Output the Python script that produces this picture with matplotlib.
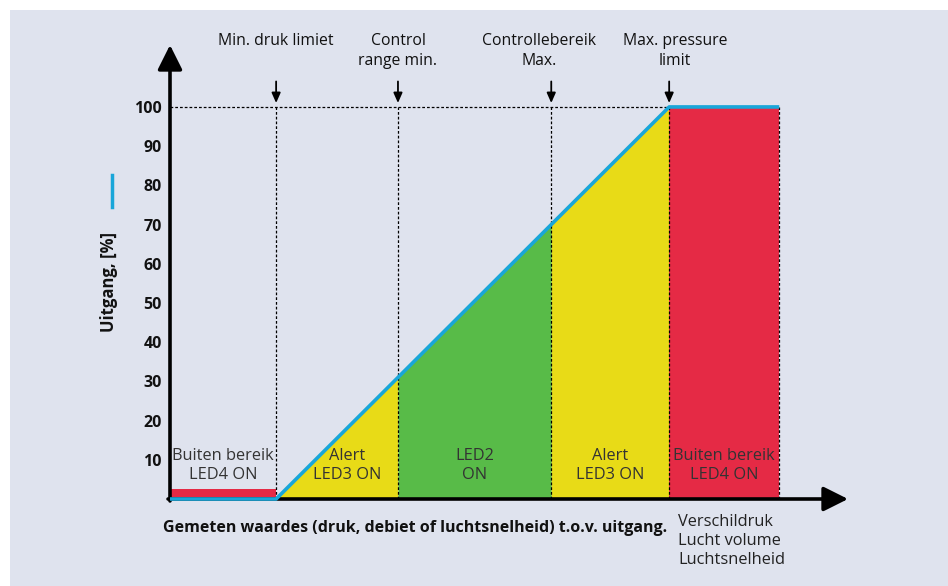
import matplotlib
matplotlib.use("Agg")
import matplotlib.pyplot as plt
from matplotlib.patches import Rectangle
from matplotlib.lines import Line2D

# Data
breaks = [0, 27, 58, 97, 127, 155]          # x positions of the limits
output = [0, 0, 31, 70, 100, 100]           # output [%] at each limit
yticks = [10, 20, 30, 40, 50, 60, 70, 80, 90, 100]
limit_labels = ["Min. druk limiet", "Control\nrange min.", "Controllebereik\nMax.", "Max. pressure\nlimit"]
zone_labels = ["Buiten bereik\nLED4 ON", "Alert\nLED3 ON", "LED2\nON", "Alert\nLED3 ON", "Buiten bereik\nLED4 ON"]
low_bar = 2.5                               # height of red bar below min limit

# Styles
bg = "#DFE3EE"
c_red = "#E52A45"
c_yel = "#E8DB17"
c_grn = "#58BB48"
c_blue = "#19A6D9"
zone_colors = [c_yel, c_grn, c_yel, c_red]
font = "Open Sans"

fig = plt.figure(figsize=(9.48, 5.86), dpi=100)
fig.patch.set_facecolor("white")
fig.patches.append(Rectangle((10/948, 0), 1, 1 - 10/586, transform=fig.transFigure,
                             facecolor=bg, edgecolor="none", zorder=-10))

ax = fig.add_axes([170/948, (586-499)/586, 678/948, 454/586])
ax.set_facecolor("none")
ax.set_xlim(0, 172.5)
ax.set_ylim(0, 115.8)
for s in ax.spines.values():
    s.set_visible(False)
ax.set_xticks([])
ax.set_yticks(yticks)
ax.set_yticklabels([str(t) for t in yticks], fontfamily=font, fontweight="bold", fontsize=11.5, color="#111")
ax.tick_params(axis="y", length=0, pad=6)

# low red bar
ax.fill_between([breaks[0], breaks[1]], 0, low_bar, color=c_red, lw=0, zorder=2)
# zones under the curve
for i, col in enumerate(zone_colors):
    ax.fill_between(breaks[i+1:i+3], 0, output[i+1:i+3], color=col, lw=0, zorder=2)

# dashed guides
dash = (0, (2.2, 1.6))
ax.plot([0, breaks[4]], [100, 100], color="black", lw=0.9, ls=dash, zorder=3)
for xb in breaks[1:]:
    ax.plot([xb, xb], [0, 100], color="black", lw=0.9, ls=dash, zorder=3)

# axes with arrows
ax.annotate("", xy=(0, 115.8), xytext=(0, -0.5), annotation_clip=False,
            arrowprops=dict(arrowstyle="-|>,head_length=0.6,head_width=0.3", lw=2.6,
                            color="black", mutation_scale=25, shrinkA=0, shrinkB=0), zorder=4)
ax.annotate("", xy=(172.5, 0), xytext=(-0.5, 0), annotation_clip=False,
            arrowprops=dict(arrowstyle="-|>,head_length=0.6,head_width=0.3", lw=2.6,
                            color="black", mutation_scale=25, shrinkA=0, shrinkB=0), zorder=4)

# output curve
ax.plot(breaks, output, color=c_blue, lw=2.6, solid_capstyle="butt", zorder=5, clip_on=False)

# limit arrows and labels
label_x = [27, 58, 94, 128.5]
for xb, lab, lx in zip(breaks[1:5], limit_labels, label_x):
    ax.annotate("", xy=(xb, 101), xytext=(xb, 106.5), annotation_clip=False,
                arrowprops=dict(arrowstyle="-|>,head_length=0.5,head_width=0.22", lw=1.3,
                                color="black", mutation_scale=12, shrinkA=0, shrinkB=0))
    ax.text(lx, 118.9, lab, ha="center", va="top", fontsize=11.3, fontfamily=font,
            linespacing=1.35, color="#111", clip_on=False)

# zone labels
zone_x = [13.5, 45, 77.5, 112, 141]
for zx, lab in zip(zone_x, zone_labels):
    ax.text(zx, 8.6, lab, ha="center", va="center", fontsize=11.8, fontfamily=font,
            linespacing=1.27, color="#333", zorder=6)

# axis titles
fig.text(109/948, 1 - 282/586, "Uitgang, [%]", rotation=90, ha="center", va="center",
         fontsize=12, fontweight="bold", fontfamily=font, color="#111")
fig.lines.append(Line2D([112/948, 112/948], [1 - 175/586, 1 - 207/586], transform=fig.transFigure,
                        color=c_blue, lw=2.5))
fig.text(667/948, 1 - 528/586, "Gemeten waardes (druk, debiet of luchtsnelheid) t.o.v. uitgang.",
         ha="right", va="center", fontsize=11.5, fontweight="bold", fontfamily=font, color="#111")
fig.text(678/948, 1 - 514/586, "Verschildruk\nLucht volume\nLuchtsnelheid", ha="left", va="top",
         fontsize=11.8, fontfamily=font, linespacing=1.25, color="#222")

fig.savefig("out.png", dpi=100, facecolor=fig.get_facecolor())
